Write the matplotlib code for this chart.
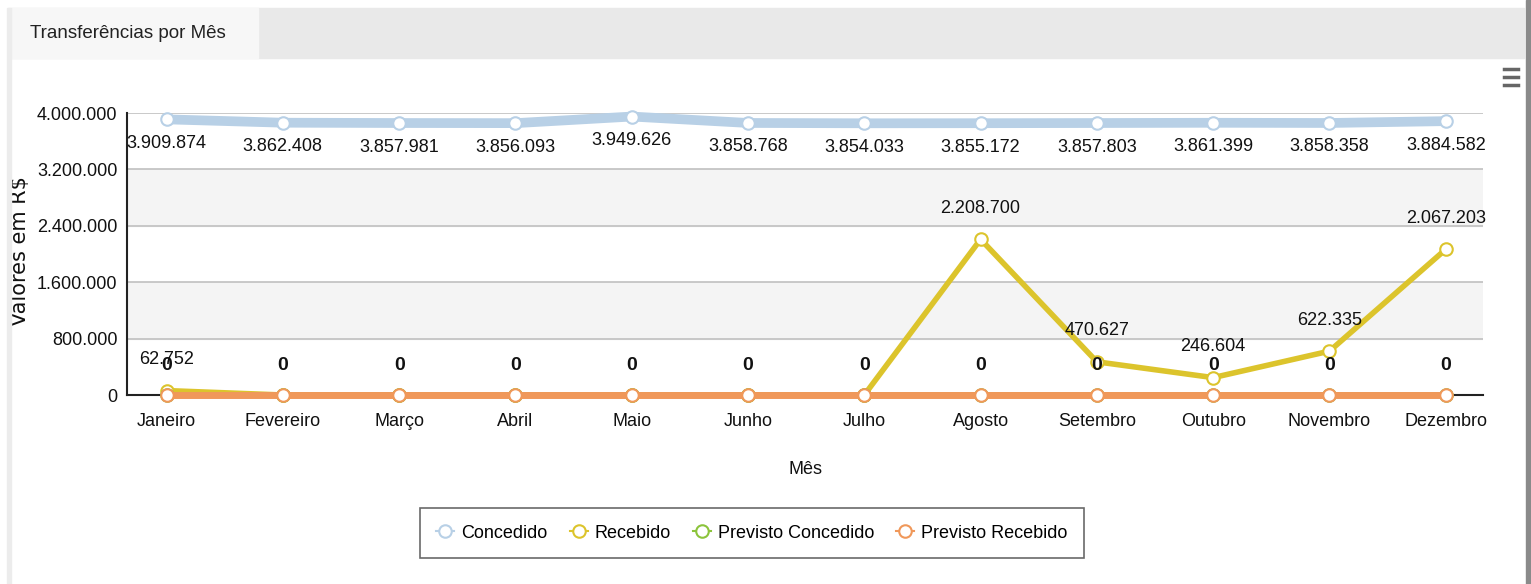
import matplotlib
matplotlib.use('Agg')
import matplotlib.pyplot as plt
from matplotlib.patches import Rectangle
from matplotlib.lines import Line2D

plt.rcParams['font.family'] = ['Liberation Sans', 'DejaVu Sans']

meses = ['Janeiro', 'Fevereiro', 'Março', 'Abril', 'Maio', 'Junho',
         'Julho', 'Agosto', 'Setembro', 'Outubro', 'Novembro', 'Dezembro']
concedido = [3909874, 3862408, 3857981, 3856093, 3949626, 3858768,
             3854033, 3855172, 3857803, 3861399, 3858358, 3884582]
recebido = [62752, 0, 0, 0, 0, 0, 0, 2208700, 470627, 246604, 622335, 2067203]
previsto_concedido = [0] * 12
previsto_recebido = [0] * 12
yticks = [0, 800000, 1600000, 2400000, 3200000, 4000000]

c_conc = '#b8d0e6'
c_rec = '#dcc42c'
c_pconc = '#8cc43c'
c_prec = '#f0985a'


def fmt(v):
    return '{:,}'.format(int(v)).replace(',', '.')


W, H = 1531, 584
fig = plt.figure(figsize=(W / 100, H / 100), dpi=100)

# header / panel decoration
fig.patches.append(Rectangle((8 / W, 1 - 58 / H), (1524 - 8) / W, 50 / H,
                             transform=fig.transFigure, color='#e9e9e9', zorder=0))
fig.patches.append(Rectangle((12 / W, 1 - 58 / H), (258 - 12) / W, 50 / H,
                             transform=fig.transFigure, color='#f7f7f7', zorder=0))
fig.patches.append(Rectangle((1526 / W, 0), 5 / W, 1,
                             transform=fig.transFigure, color='#8a8a8a', zorder=0))
fig.patches.append(Rectangle((7 / W, 0), 4 / W, 1 - 8 / H,
                             transform=fig.transFigure, color='#ececec', zorder=0))
fig.text(30 / W, 1 - 33 / H, 'Transferências por Mês', fontsize=13.5,
         color='#222222', va='center', ha='left')
for yy in [69, 77, 85]:
    fig.add_artist(Line2D([1504 / W, 1518 / W], [1 - yy / H, 1 - yy / H],
                          transform=fig.transFigure, color='#666666', lw=2.5))

ax = fig.add_axes([127 / W, (H - 395) / H, (1483 - 127) / W, (395 - 113) / H])
ax.set_xlim(-0.34, 11.32)
ax.set_ylim(0, 4000000)

# alternating bands and grid
for i in range(len(yticks) - 1):
    if i % 2 == 1:
        ax.axhspan(yticks[i], yticks[i + 1], color='#f4f4f4', zorder=0)
for t in yticks[1:]:
    ax.axhline(t, color='#c0c0c0', lw=1.2, zorder=1)

x = list(range(len(meses)))
mk = dict(marker='o', markersize=9, markerfacecolor='white', markeredgewidth=1.5)
ax.plot(x, concedido, color=c_conc, lw=7, markeredgecolor=c_conc, zorder=3,
        solid_capstyle='butt', clip_on=False, **mk)
ax.plot(x, recebido, color=c_rec, lw=4, markeredgecolor=c_rec, zorder=4, clip_on=False, **mk)
ax.plot(x, previsto_concedido, color=c_pconc, lw=4, markeredgecolor=c_pconc, zorder=4,
        clip_on=False, **mk)
ax.plot(x, previsto_recebido, color=c_prec, lw=5, markeredgecolor=c_prec, zorder=5,
        clip_on=False, **mk)

for xi, v in zip(x, concedido):
    ax.annotate(fmt(v), (xi, v), xytext=(0, -24), textcoords='offset pixels',
                ha='center', va='center', fontsize=13, color='#111111', zorder=6)
for xi, v in zip(x, recebido):
    if v > 0:
        ax.annotate(fmt(v), (xi, v), xytext=(0, 31), textcoords='offset pixels',
                    ha='center', va='center', fontsize=13, color='#111111', zorder=6)
for xi, v in zip(x, previsto_recebido):
    ax.annotate(fmt(v), (xi, v), xytext=(0, 30), textcoords='offset pixels',
                ha='center', va='center', fontsize=14, fontweight='bold',
                color='#111111', zorder=7)

ax.set_xticks(x)
ax.set_xticklabels(meses, fontsize=13)
ax.set_yticks(yticks)
ax.set_yticklabels([fmt(t) for t in yticks], fontsize=13)
ax.tick_params(axis='x', length=0, pad=13, colors='#111111')
ax.tick_params(axis='y', length=0, pad=7, colors='#111111')
for s in ['top', 'right']:
    ax.spines[s].set_visible(False)
ax.spines['left'].set_color('#222222')
ax.spines['bottom'].set_color('#222222')
ax.spines['left'].set_linewidth(1.5)
ax.spines['bottom'].set_linewidth(1.5)
ax.set_facecolor('white')

ax.set_xlabel('Mês', fontsize=13, color='#111111')
ax.xaxis.set_label_coords(0.5, -(461 - 395) / 282)
ax.set_ylabel('Valores em R$', fontsize=15, color='#111111', family=['DejaVu Sans'])
ax.yaxis.set_label_coords(-(127 - 30) / 1356, 0.51)

handles = [
    Line2D([0], [0], color=c_conc, lw=1.5, marker='o', markersize=9,
           markerfacecolor='white', markeredgecolor=c_conc, markeredgewidth=1.5),
    Line2D([0], [0], color=c_rec, lw=1.5, marker='o', markersize=9,
           markerfacecolor='white', markeredgecolor=c_rec, markeredgewidth=1.5),
    Line2D([0], [0], color=c_pconc, lw=1.5, marker='o', markersize=9,
           markerfacecolor='white', markeredgecolor=c_pconc, markeredgewidth=1.5),
    Line2D([0], [0], color=c_prec, lw=1.5, marker='o', markersize=9,
           markerfacecolor='white', markeredgecolor=c_prec, markeredgewidth=1.5),
]
leg = fig.legend(handles, ['Concedido', 'Recebido', 'Previsto Concedido', 'Previsto Recebido'],
                 loc='center', bbox_to_anchor=(752 / W, 1 - 533 / H), ncol=4,
                 fontsize=13, frameon=True, fancybox=False, handlelength=1.0,
                 handletextpad=0.4, columnspacing=1.2, borderpad=0.9)
leg.get_frame().set_edgecolor('#444444')
leg.get_frame().set_linewidth(1.2)

fig.savefig('out.png', dpi=100, facecolor='white')
